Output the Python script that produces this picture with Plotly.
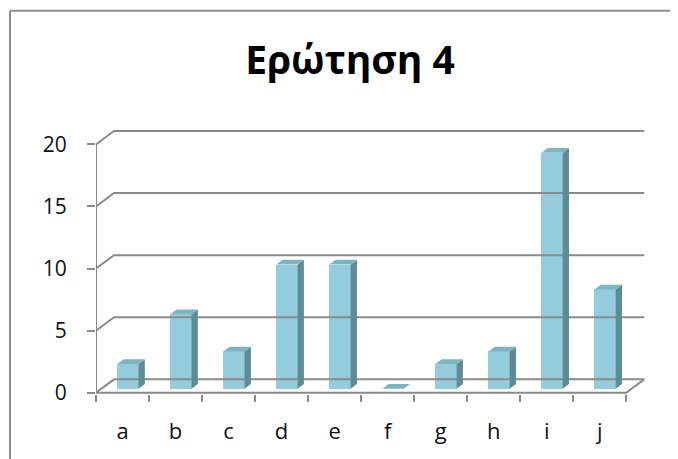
import plotly.graph_objects as go

categories = ["a", "b", "c", "d", "e", "f", "g", "h", "i", "j"]
values = [2, 6, 3, 10, 10, 0, 2, 3, 19, 8]
y_ticks = [0, 5, 10, 15, 20]
title_text = "Ερώτηση 4"

# page body has an 8px margin, so the figure is sized/placed to compensate
W, H = 670, 451
ML, MR, MT, MB = 88, 20, 118.5, 64.8
X_RANGE = [0, 10.6]
Y_RANGE = [-0.1, 21.4]

DX, DY = 0.34, 1.08          # full depth offset (data units)
BAR_D0 = 0.30                # front face depth fraction
BAR_DD = 0.35                # bar depth fraction
BAR_W = 0.40

GRID = "#8a8a8a"
FRONT = "#93CDDD"
SIDE = "#5F8B96"
TOP = "#7DB4C4"

fig = go.Figure()

def line(xs, ys, width=2, color=GRID):
    fig.add_trace(go.Scatter(x=xs, y=ys, mode="lines", hoverinfo="skip",
                             line=dict(color=color, width=width), showlegend=False))

n = len(categories)
# back wall gridlines + left side diagonals
for v in y_ticks:
    line([0, DX, n + DX], [v, v + DY, v + DY])
# floor front + right diagonal, y axis line
line([0, n, n + DX], [0, 0, DY])
line([0, 0], [0, y_ticks[-1]])

# bars
base = BAR_D0 * DY
ox = BAR_D0 * DX
ddx, ddy = BAR_DD * DX, BAR_DD * DY
xc = [i + 0.5 + ox for i in range(n)]
fig.add_trace(go.Bar(x=xc, y=values, base=[base] * n, width=BAR_W,
                     marker=dict(color=FRONT, line=dict(width=0)),
                     showlegend=False, hoverinfo="skip"))
for c, v in zip(xc, values):
    x0, x1 = c - BAR_W / 2, c + BAR_W / 2
    t = base + v
    fig.add_trace(go.Scatter(x=[x1, x1 + ddx, x1 + ddx, x1, x1],
                             y=[base, base + ddy, t + ddy, t, base],
                             fill="toself", fillcolor=SIDE, mode="lines",
                             line=dict(width=0, color=SIDE), showlegend=False, hoverinfo="skip"))
    fig.add_trace(go.Scatter(x=[x0, x1, x1 + ddx, x0 + ddx, x0],
                             y=[t, t, t + ddy, t + ddy, t],
                             fill="toself", fillcolor=TOP, mode="lines",
                             line=dict(width=0, color=TOP), showlegend=False, hoverinfo="skip"))

# invisible trace for second x axis (category labels)
fig.add_trace(go.Scatter(x=[0.5], y=[0], xaxis="x2", mode="markers",
                         marker=dict(opacity=0), showlegend=False, hoverinfo="skip"))

font_family = "Open Sans, Lato, Liberation Sans, sans-serif"
pw = W - ML - MR
ph = H - MT - MB

def px2paper_x(px):
    return (px - ML) / pw

def py2paper_y(py):
    return (H - MB - py) / ph

fig.update_layout(
    width=W, height=H,
    margin=dict(l=ML, r=MR, t=MT, b=MB, pad=0),
    paper_bgcolor="white", plot_bgcolor="white",
    title=dict(text="<b>" + title_text + "</b>", x=342 / W, xanchor="center",
               y=1 - 52 / H, yanchor="middle",
               font=dict(family=font_family, size=39, color="#000000")),
    xaxis=dict(range=X_RANGE, tickvals=list(range(n + 1)), showticklabels=False,
               ticks="outside", ticklen=7, tickwidth=2, tickcolor=GRID,
               showgrid=False, zeroline=False, showline=False, fixedrange=True),
    xaxis2=dict(range=X_RANGE, overlaying="x", anchor="y", side="bottom",
                tickvals=[i + 0.5 for i in range(n)], ticktext=categories,
                ticks="", showgrid=False, zeroline=False, showline=False,
                ticklabelstandoff=22,
                tickfont=dict(family=font_family, size=22, color="#111111")),
    yaxis=dict(range=Y_RANGE, tickvals=y_ticks, ticks="outside", ticklen=8,
               tickwidth=2, tickcolor=GRID, showgrid=False, zeroline=False,
               showline=False, ticklabelstandoff=16,
               tickfont=dict(family=font_family, size=21, color="#111111")),
    bargap=0,
    shapes=[dict(type="line", xref="paper", yref="paper",
                 x0=px2paper_x(2), x1=px2paper_x(2), y0=py2paper_y(2), y1=py2paper_y(470),
                 line=dict(color="#8c8c8c", width=2)),
            dict(type="line", xref="paper", yref="paper",
                 x0=px2paper_x(2), x1=px2paper_x(690), y0=py2paper_y(2), y1=py2paper_y(2),
                 line=dict(color="#8c8c8c", width=2))],
)

fig.write_html("out.html")
